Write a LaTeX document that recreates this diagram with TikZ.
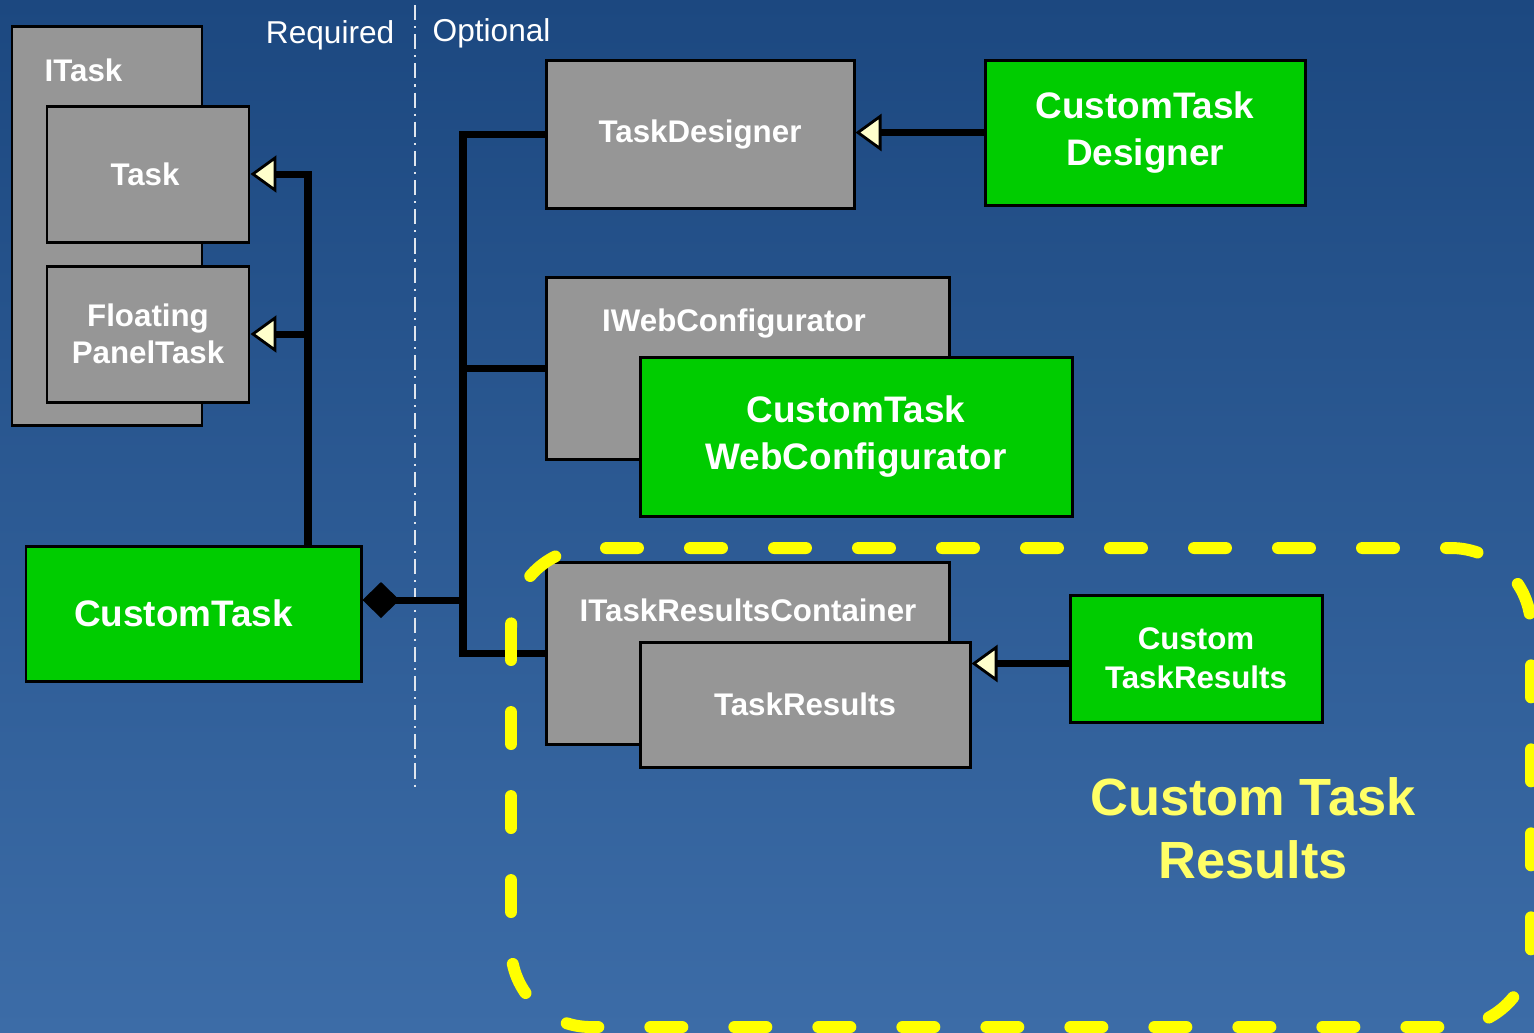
\documentclass[tikz,border=0pt]{standalone}
\usepackage{fontspec}
\setmainfont{Liberation Sans}
\usetikzlibrary{arrows.meta}

\definecolor{bgtop}{HTML}{1C4880}
\definecolor{bgbot}{HTML}{3C6CA7}
\definecolor{boxgray}{HTML}{969696}
\definecolor{boxgreen}{HTML}{00CC00}
\definecolor{tipfill}{HTML}{FFFFCC}
\definecolor{regionyellow}{HTML}{FFFF00}
\definecolor{regiontext}{HTML}{FFFF66}
\definecolor{divgray}{HTML}{E0E6EE}

\tikzset{
  classbox/.style={draw=black, line width=0.85pt, inner sep=0pt, text=white, align=center,
    font=\bfseries\fontsize{8.9}{10.5}\selectfont},
  ifacebox/.style={classbox, fill=boxgray},
  custombox/.style={classbox, fill=boxgreen, font=\bfseries\fontsize{10.5}{13.1}\selectfont},
  conn/.style={line width=2pt},
  gen/.style={conn, -{Triangle[length=0.26cm,width=0.37cm,fill=tipfill,line width=0.8pt]}},
  comp/.style={conn, -{Diamond[length=0.37cm,width=0.36cm,line width=0.5pt]}},
  sidelbl/.style={text=white, inner sep=0pt, font=\fontsize{9}{11}\selectfont},
  divider/.style={draw=divgray, line width=0.6pt, dash pattern=on 4.3pt off 1.7pt on 0.6pt off 1.7pt},
  region/.style={draw=regionyellow, line width=3.4pt, line cap=round, dash pattern=on 0.32cm off 0.52cm, rounded corners=0.8cm}
}

\begin{document}
\begin{tikzpicture}

% background
\shade[top color=bgtop, bottom color=bgbot] (0,0) rectangle (15.34,-10.32);
\useasboundingbox (0,0) rectangle (15.34,-10.32);

% required / optional
\draw[divider] (4.15,-0.05) -- (4.15,-7.90);
\node[sidelbl, anchor=east] (req) at (3.95,-0.35) {Required};
\node[sidelbl, anchor=west] (opt) at (4.32,-0.33) {Optional};

% required side
\node[ifacebox, minimum width=1.90cm, minimum height=3.99cm] (itask) at (1.07,-2.255) {};
\node[sidelbl, font=\bfseries\fontsize{8.9}{10.5}\selectfont, anchor=west] (itasklbl) at (0.44,-0.70) {ITask};
\node[ifacebox, minimum width=2.02cm, minimum height=1.36cm] (task) at (1.48,-1.74) {Task\hspace*{0.06cm}};
\node[ifacebox, minimum width=2.02cm, minimum height=1.36cm] (fpt) at (1.48,-3.34) {Floating\\PanelTask};
\node[custombox, minimum width=3.35cm, minimum height=1.35cm] (ct) at (1.935,-6.135) {CustomTask\hspace*{0.2cm}};

% optional side
\node[ifacebox, minimum width=3.08cm, minimum height=1.48cm] (td) at (7.00,-1.34) {TaskDesigner};
\node[custombox, minimum width=3.20cm, minimum height=1.45cm] (ctd) at (11.45,-1.325) {CustomTask\\Designer};

\node[ifacebox, minimum width=4.03cm, minimum height=1.82cm] (iweb) at (7.475,-3.68) {};
\node[sidelbl, font=\bfseries\fontsize{8.9}{10.5}\selectfont] (iweblbl) at (7.34,-3.23) {IWebConfigurator};
\node[custombox, minimum width=4.32cm, minimum height=1.59cm] (ctwc) at (8.56,-4.365) {CustomTask\\WebConfigurator};

\node[ifacebox, minimum width=4.03cm, minimum height=1.82cm] (itrc) at (7.475,-6.53) {};
\node[sidelbl, font=\bfseries\fontsize{8.9}{10.5}\selectfont] (itrclbl) at (7.48,-6.10) {ITaskResultsContainer};
\node[ifacebox, minimum width=3.30cm, minimum height=1.25cm] (tr) at (8.05,-7.045) {TaskResults};
\node[classbox, fill=boxgreen, font=\bfseries\fontsize{8.9}{11.1}\selectfont, minimum width=2.52cm, minimum height=1.27cm] (ctr) at (11.96,-6.585) {Custom\\TaskResults};

% connectors
\coordinate (reqbus) at (3.08,-1.74);
\coordinate (optbus) at (4.63,-6.00);
\draw[gen] (ct.north -| reqbus) |- (task.east);
\draw[gen] (ct.north -| reqbus) |- (fpt.east);
\draw[comp] (optbus) -- (optbus -| ct.east);
\draw[conn] (td.west) -| (itrc.west -| optbus) -- (itrc.west);
\draw[conn] (iweb.west -| optbus) -- (iweb.west);
\draw[gen] (ctd.west) -- (ctd.west -| td.east);
\draw[gen] ([yshift=-0.05cm]ctr.west) -- ([yshift=-0.05cm]ctr.west -| tr.east);

% custom task results region
\draw[region] (5.11,-5.48) rectangle (15.31,-10.27);
\node[text=regiontext, align=center, font=\bfseries\fontsize{14.9}{17.9}\selectfont] (regionlbl) at (12.53,-8.28) {Custom Task\\Results};

\end{tikzpicture}
\end{document}
